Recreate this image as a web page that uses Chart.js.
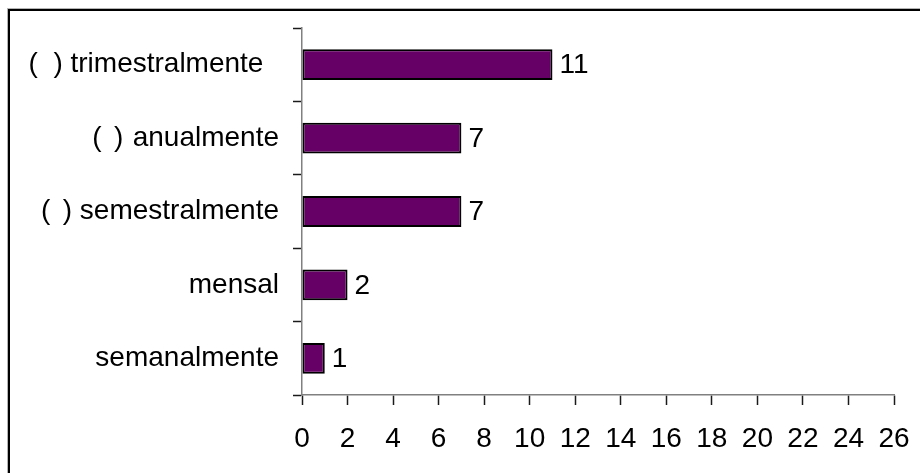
<!DOCTYPE html>
<html>
<head>
<meta charset="utf-8">
<script src="https://cdn.jsdelivr.net/npm/chart.js@4/dist/chart.umd.min.js"></script>
<style>
  html, body { margin: 0; padding: 0; background: #ffffff; }
  #wrap { width: 920px; height: 473px; position: relative; }
</style>
</head>
<body>
<div id="wrap"><canvas id="chart" width="920" height="473"></canvas></div>
<script>
// Answer categories, top to bottom (the blank brackets are answer boxes)
const categories = [
  '(  ) trimestralmente  ',
  '( \u2006)\u2004anualmente',
  '( \u2006) semestralmente',
  'mensal',
  'semanalmente'
];
// Number of answers per category
const counts = [11, 7, 7, 2, 1];
// Value axis range and tick step
const axisMin = 0;
const axisMax = 26;
const axisStep = 2;

const FONT = { family: '"Liberation Sans", Arial, sans-serif', size: 28 };

// Frame around the whole figure (top and left edges)
const framePlugin = {
  id: 'frame',
  beforeDraw(chart) {
    const ctx = chart.ctx;
    ctx.save();
    ctx.fillStyle = '#ffffff';
    ctx.fillRect(0, 0, chart.width, chart.height);
    ctx.fillStyle = '#b4b4b4';
    ctx.fillRect(8, 8, chart.width - 8, 1);
    ctx.fillRect(7, 8, 1, chart.height - 8);
    ctx.fillStyle = '#000000';
    ctx.fillRect(8, 9, chart.width - 8, 2);
    ctx.fillRect(8, 9, 2, chart.height - 9);
    ctx.restore();
  }
};

// Count printed just past the end of each bar
const valueLabelPlugin = {
  id: 'valueLabels',
  afterDatasetsDraw(chart) {
    const ctx = chart.ctx;
    const meta = chart.getDatasetMeta(0);
    const data = chart.data.datasets[0].data;
    ctx.save();
    ctx.font = `${FONT.size}px ${FONT.family}`;
    ctx.fillStyle = '#000000';
    ctx.textAlign = 'left';
    ctx.textBaseline = 'middle';
    meta.data.forEach((bar, i) => {
      ctx.fillText(String(data[i]), bar.x + 7, bar.y + 1);
    });
    ctx.restore();
  }
};

new Chart(document.getElementById('chart'), {
  type: 'bar',
  data: {
    labels: categories,
    datasets: [{
      data: counts,
      backgroundColor: '#660066',
      borderColor: '#000000',
      borderWidth: 2,
      borderSkipped: false,
      categoryPercentage: 1,
      barPercentage: 0.42
    }]
  },
  options: {
    indexAxis: 'y',
    responsive: false,
    animation: false,
    devicePixelRatio: 1,
    layout: { padding: { left: 0, top: 28, right: 26, bottom: 0 } },
    plugins: {
      legend: { display: false },
      tooltip: { enabled: false },
      title: { display: false }
    },
    scales: {
      y: {
        type: 'category',
        offset: true,
        grid: {
          offset: true,
          drawOnChartArea: false,
          drawTicks: true,
          tickLength: 9,
          tickColor: '#1a1a1a',
          tickWidth: 1.5
        },
        border: { display: true, color: '#808080', width: 1.5 },
        ticks: {
          color: '#000000',
          font: FONT,
          padding: 14,
          autoSkip: false
        },
        afterFit(scale) {
          scale.width = 302;
          scale.paddingTop = 0;
          scale.paddingBottom = 0;
        }
      },
      x: {
        type: 'linear',
        min: axisMin,
        max: axisMax,
        grid: {
          drawOnChartArea: false,
          drawTicks: true,
          tickLength: 10,
          tickColor: '#1a1a1a',
          tickWidth: 1.5
        },
        border: { display: true, color: '#808080', width: 1.5 },
        ticks: {
          stepSize: axisStep,
          color: '#000000',
          font: FONT,
          padding: 17,
          maxRotation: 0,
          autoSkip: false
        },
        afterFit(scale) {
          scale.height = 78;
          scale.paddingLeft = 0;
          scale.paddingRight = 0;
        }
      }
    }
  },
  plugins: [framePlugin, valueLabelPlugin]
});
</script>
</body>
</html>
